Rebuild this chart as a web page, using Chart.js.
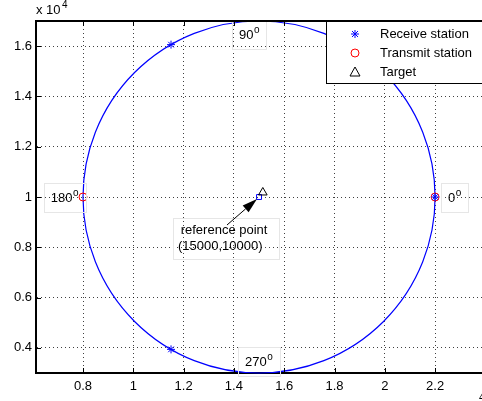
<!DOCTYPE html>
<html>
<head>
<meta charset="utf-8">
<script src="https://cdn.jsdelivr.net/npm/chart.js@4.4.0/dist/chart.umd.min.js"></script>
<style>
html, body { margin: 0; padding: 0; background: #fff; overflow: hidden; }
#wrap { width: 482px; height: 401px; overflow: hidden; }
</style>
</head>
<body>
<div id="wrap"><canvas id="grafico" width="500" height="401"></canvas></div>
<script>
// datos (unidades reales, los ejes muestran x 10^4)
const xTicks = [8000, 10000, 12000, 14000, 16000, 18000, 20000, 22000];
const yTicks = [4000, 6000, 8000, 10000, 12000, 14000, 16000];
const receiveX = [11500, 11500, 22000];
const receiveY = [16060, 3940, 10000];
const transmitX = [8000, 22000];
const transmitY = [10000, 10000];
const targetX = [15150];
const targetY = [10180];
const refX = [15000];
const refY = [10000];
const circleCenter = [15000, 10000];
const circleRadius = 7000;
const seriesNames = ['Receive station', 'Transmit station', 'Target'];
const angleTexts = ['90', '0', '180', '270'];
const refTexts = ['reference point', '(15000,10000)'];

// posiciones de los textos en coordenadas de datos
const angleAt = [[14203, 16443], [22513, 9960], [6716, 9960], [14441, 3437]];
const refAt = [[11884, 8687], [11777, 8051]];
const arrowFrom = [13725, 8886];
const arrowTo = [14918, 9920];

const FONT = '13px "Liberation Sans", Arial, sans-serif';
const SUP = '10px "Liberation Sans", Arial, sans-serif';

function pts(xs, ys) {
    return xs.map((v, i) => ({ x: v, y: ys[i] }));
}

function drawMarker(ctx, style, px, py, color) {
    ctx.save();
    ctx.strokeStyle = color;
    ctx.lineWidth = 1;
    ctx.beginPath();
    if (style === 'star') {
        const r = 4;
        ctx.moveTo(px - r, py); ctx.lineTo(px + r, py);
        ctx.moveTo(px, py - r); ctx.lineTo(px, py + r);
        const d = r * 0.75;
        ctx.moveTo(px - d, py - d); ctx.lineTo(px + d, py + d);
        ctx.moveTo(px - d, py + d); ctx.lineTo(px + d, py - d);
    } else if (style === 'circle') {
        ctx.arc(px, py, 4, 0, Math.PI * 2);
    } else if (style === 'triangle') {
        ctx.moveTo(px, py - 5); ctx.lineTo(px + 5, py + 4); ctx.lineTo(px - 5, py + 4); ctx.closePath();
    }
    ctx.stroke();
    ctx.restore();
}

function degText(ctx, txt, px, py) {
    ctx.font = FONT;
    ctx.textBaseline = 'middle';
    ctx.textAlign = 'left';
    ctx.fillStyle = '#000';
    ctx.fillText(txt, px, py);
    const w = ctx.measureText(txt).width;
    ctx.font = SUP;
    ctx.fillText('o', px + w + 0.5, py - 5);
    return w + 7;
}

function box(ctx, x1, y1, x2, y2) {
    ctx.save();
    ctx.strokeStyle = '#e6e6e6';
    ctx.lineWidth = 1;
    ctx.strokeRect(Math.round(x1) + 0.5, Math.round(y1) + 0.5, Math.round(x2 - x1), Math.round(y2 - y1));
    ctx.restore();
}

const dibujoMatlab = {
    id: 'dibujoMatlab',
    beforeDatasetsDraw(chart) {
        const { ctx, scales: { x, y } } = chart;
        const cx = x.getPixelForValue(circleCenter[0]);
        const cy = y.getPixelForValue(circleCenter[1]);
        const rx = x.getPixelForValue(circleCenter[0] + circleRadius) - cx;
        const ry = cy - y.getPixelForValue(circleCenter[1] + circleRadius);
        ctx.save();
        ctx.strokeStyle = '#0000ff';
        ctx.lineWidth = 1.2;
        ctx.beginPath();
        ctx.ellipse(cx, cy, rx, ry, 0, 0, Math.PI * 2);
        ctx.stroke();
        ctx.restore();
    },
    afterDatasetsDraw(chart) {
        const { ctx, chartArea: a, scales: { x, y } } = chart;
        ctx.save();

        // textos de angulos
        angleTexts.forEach((t, i) => {
            const px = x.getPixelForValue(angleAt[i][0]);
            const py = y.getPixelForValue(angleAt[i][1]);
            const w = degText(ctx, t, px, py);
            box(ctx, px - 7, Math.max(py - 15, a.top), px + w + 6, py + 14);
        });

        // punto de referencia
        ctx.font = FONT;
        ctx.textBaseline = 'middle';
        ctx.textAlign = 'left';
        ctx.fillStyle = '#000';
        let maxW = 0;
        refTexts.forEach((t, i) => {
            const px = x.getPixelForValue(refAt[i][0]);
            const py = y.getPixelForValue(refAt[i][1]);
            ctx.fillText(t, px, py);
            maxW = Math.max(maxW, px + ctx.measureText(t).width);
        });
        const bx = x.getPixelForValue(refAt[1][0]) - 5;
        const by = y.getPixelForValue(refAt[0][1]) - 12;
        box(ctx, bx, by, maxW + 12, y.getPixelForValue(refAt[1][1]) + 13);

        // flecha
        const x1 = x.getPixelForValue(arrowFrom[0]), y1 = y.getPixelForValue(arrowFrom[1]);
        const x2 = x.getPixelForValue(arrowTo[0]), y2 = y.getPixelForValue(arrowTo[1]);
        const ang = Math.atan2(y2 - y1, x2 - x1);
        const hl = 15, hw = 4.5;
        const bxh = x2 - hl * Math.cos(ang), byh = y2 - hl * Math.sin(ang);
        ctx.strokeStyle = '#000';
        ctx.lineWidth = 1;
        ctx.beginPath();
        ctx.moveTo(x1, y1); ctx.lineTo(bxh, byh);
        ctx.stroke();
        ctx.beginPath();
        ctx.moveTo(x2, y2);
        ctx.lineTo(bxh + hw * Math.sin(ang), byh - hw * Math.cos(ang));
        ctx.lineTo(bxh - hw * Math.sin(ang), byh + hw * Math.cos(ang));
        ctx.closePath();
        ctx.fillStyle = '#000';
        ctx.fill();

        // marcas hacia dentro
        ctx.beginPath();
        xTicks.forEach(v => {
            const p = Math.round(x.getPixelForValue(v)) + 0.5;
            ctx.moveTo(p, a.bottom); ctx.lineTo(p, a.bottom - 5);
            ctx.moveTo(p, a.top); ctx.lineTo(p, a.top + 5);
        });
        yTicks.forEach(v => {
            const p = Math.round(y.getPixelForValue(v)) + 0.5;
            ctx.moveTo(a.left, p); ctx.lineTo(a.left + 5, p);
        });
        ctx.stroke();
        // marco superior
        ctx.lineWidth = 2;
        ctx.beginPath();
        ctx.moveTo(a.left - 1, a.top); ctx.lineTo(a.right, a.top);
        ctx.stroke();

        // leyenda
        const lx = 326, ly = 21, lh = 62;
        ctx.lineWidth = 1;
        ctx.fillStyle = '#fff';
        ctx.fillRect(lx, ly, 200, lh);
        ctx.strokeStyle = '#000';
        ctx.strokeRect(lx + 0.5, ly + 0.5, 200, lh);
        const estilos = [['star', '#0000ff'], ['circle', '#ff0000'], ['triangle', '#000']];
        seriesNames.forEach((n, i) => {
            const yy = ly + 13 + i * 19;
            drawMarker(ctx, estilos[i][0], 355, yy, estilos[i][1]);
            ctx.font = FONT;
            ctx.fillStyle = '#000';
            ctx.textBaseline = 'middle';
            ctx.textAlign = 'left';
            ctx.fillText(n, 380, yy);
        });

        // multiplicadores de ejes
        ctx.font = FONT;
        ctx.textBaseline = 'middle';
        ctx.fillText('x 10', 36, 10);
        ctx.font = SUP;
        ctx.fillText('4', 62, 5);
        ctx.font = SUP;
        ctx.fillText('4', 479, 398);
        ctx.restore();
    }
};

document.addEventListener('DOMContentLoaded', () => {
    const ctx = document.getElementById('grafico').getContext('2d');
    new Chart(ctx, {
        type: 'scatter',
        data: {
            datasets: [
                {
                    label: seriesNames[0],
                    data: pts(receiveX, receiveY),
                    pointStyle: 'star',
                    pointRadius: 4,
                    borderColor: '#0000ff',
                    backgroundColor: '#0000ff',
                    borderWidth: 1
                },
                {
                    label: seriesNames[1],
                    data: pts(transmitX, transmitY),
                    pointStyle: 'circle',
                    pointRadius: 4,
                    borderColor: '#ff0000',
                    backgroundColor: 'rgba(0,0,0,0)',
                    borderWidth: 1
                },
                {
                    label: seriesNames[2],
                    data: pts(targetX, targetY),
                    pointStyle: 'triangle',
                    pointRadius: 5,
                    borderColor: '#000',
                    backgroundColor: 'rgba(0,0,0,0)',
                    borderWidth: 1
                },
                {
                    label: 'reference',
                    data: pts(refX, refY),
                    pointStyle: 'rect',
                    pointRadius: 3.5,
                    borderColor: '#0000ff',
                    backgroundColor: 'rgba(0,0,0,0)',
                    borderWidth: 1
                }
            ]
        },
        options: {
            responsive: false,
            animation: false,
            events: [],
            layout: { padding: { top: 21, right: 10, left: 0, bottom: 0 } },
            plugins: { legend: { display: false }, tooltip: { enabled: false } },
            scales: {
                x: {
                    type: 'linear',
                    min: 6131,
                    max: 24183,
                    afterBuildTicks: s => { s.ticks = xTicks.map(v => ({ value: v })); },
                    afterFit: s => { s.height = 28; },
                    ticks: {
                        color: '#000',
                        font: { family: '"Liberation Sans", Arial, sans-serif', size: 13 },
                        padding: 6,
                        maxRotation: 0,
                        callback: v => String(+(v / 10000).toFixed(1))
                    },
                    grid: { color: 'rgba(0,0,0,0.75)', lineWidth: 1, drawTicks: false },
                    border: { display: true, color: '#000', width: 2, dash: [1, 3] }
                },
                y: {
                    type: 'linear',
                    min: 3000,
                    max: 17000,
                    afterBuildTicks: s => { s.ticks = yTicks.map(v => ({ value: v })); },
                    afterFit: s => { s.width = 36; },
                    ticks: {
                        color: '#000',
                        font: { family: '"Liberation Sans", Arial, sans-serif', size: 13 },
                        padding: 4,
                        callback: v => String(+(v / 10000).toFixed(1))
                    },
                    grid: { color: 'rgba(0,0,0,0.75)', lineWidth: 1, drawTicks: false },
                    border: { display: true, color: '#000', width: 2, dash: [1, 3] }
                }
            }
        },
        plugins: [dibujoMatlab]
    });
});
</script>
</body>
</html>
